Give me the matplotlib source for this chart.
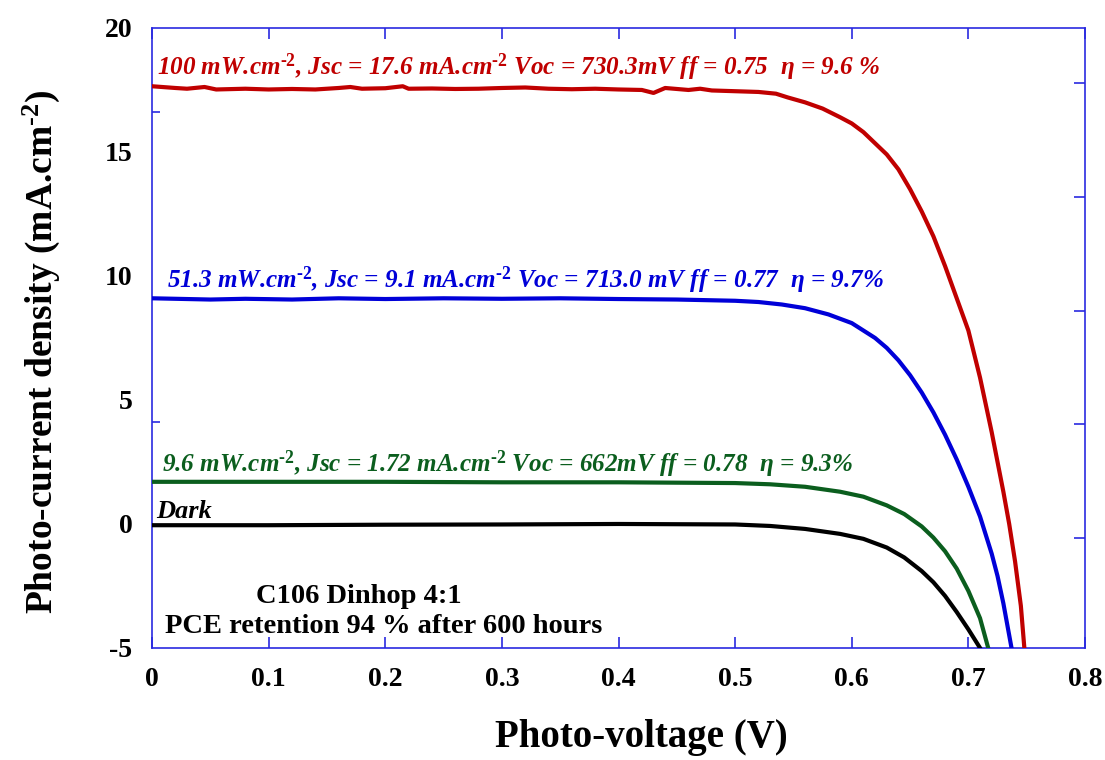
import matplotlib
matplotlib.use("Agg")
import matplotlib.pyplot as plt

# ---------------- data ----------------
v_red = [0.00, 0.02, 0.03, 0.045, 0.055, 0.08, 0.10, 0.12, 0.14, 0.16, 0.17, 0.18,
         0.20, 0.215, 0.22, 0.24, 0.26, 0.28, 0.30, 0.32, 0.34, 0.36, 0.38, 0.40,
         0.42, 0.43, 0.44, 0.46, 0.47, 0.48, 0.50, 0.52, 0.535, 0.545, 0.56, 0.575,
         0.59, 0.60, 0.61, 0.62, 0.63, 0.64, 0.65, 0.66, 0.67, 0.68, 0.69, 0.70,
         0.71, 0.72, 0.73, 0.735, 0.74, 0.745, 0.748]
j_red = [17.65, 17.58, 17.55, 17.62, 17.52, 17.55, 17.52, 17.54, 17.52, 17.58, 17.62, 17.55,
         17.57, 17.65, 17.55, 17.56, 17.54, 17.55, 17.58, 17.60, 17.55, 17.53, 17.55, 17.52,
         17.50, 17.38, 17.58, 17.50, 17.55, 17.48, 17.45, 17.42, 17.35, 17.20, 17.00, 16.75,
         16.40, 16.15, 15.80, 15.35, 14.90, 14.30, 13.50, 12.60, 11.60, 10.40, 9.10, 7.80,
         5.90, 3.70, 1.30, 0.00, -1.50, -3.30, -5.00]

v_blue = [0.00, 0.02, 0.05, 0.08, 0.12, 0.16, 0.20, 0.25, 0.30, 0.35, 0.40, 0.45,
          0.50, 0.52, 0.54, 0.56, 0.58, 0.60, 0.62, 0.63, 0.64, 0.65, 0.66, 0.67,
          0.68, 0.69, 0.70, 0.71, 0.72, 0.725, 0.73, 0.737]
j_blue = [9.10, 9.08, 9.05, 9.08, 9.05, 9.10, 9.07, 9.10, 9.08, 9.10, 9.07, 9.05,
          9.00, 8.95, 8.85, 8.70, 8.45, 8.10, 7.50, 7.10, 6.60, 6.00, 5.30, 4.50,
          3.60, 2.60, 1.50, 0.30, -1.20, -2.10, -3.20, -5.00]

v_green = [0.00, 0.10, 0.20, 0.30, 0.40, 0.50, 0.53, 0.56, 0.59, 0.61, 0.63, 0.645,
           0.66, 0.67, 0.68, 0.69, 0.70, 0.71, 0.717]
j_green = [1.70, 1.70, 1.70, 1.68, 1.68, 1.65, 1.60, 1.50, 1.30, 1.10, 0.75, 0.40,
           -0.10, -0.55, -1.10, -1.80, -2.70, -3.80, -5.00]

v_dark = [0.00, 0.10, 0.20, 0.30, 0.40, 0.50, 0.53, 0.56, 0.59, 0.61, 0.63, 0.645,
          0.66, 0.67, 0.68, 0.69, 0.70, 0.71]
j_dark = [-0.05, -0.05, -0.03, -0.02, 0.00, -0.02, -0.08, -0.20, -0.40, -0.60, -0.95, -1.35,
          -1.90, -2.35, -2.90, -3.55, -4.25, -5.00]

x_ticks = [0, 0.1, 0.2, 0.3, 0.4, 0.5, 0.6, 0.7, 0.8]
x_tick_labels = ["0", "0.1", "0.2", "0.3", "0.4", "0.5", "0.6", "0.7", "0.8"]
y_ticks = [-5, 0, 5, 10, 15, 20]
y_tick_labels = ["-5", "0", "5", "10", "15", "20"]
left_minor_ticks = [0, 4.1, 10, 16.6]
right_ticks = [17.78, 13.19, 8.59, 4.03, -0.56]

HY = "\u2010"  # short hyphen for the superscript
lbl_red = "100 mW.cm$^{\\mathit{" + HY + "2}}$, Jsc = 17.6 mA.cm$^{\\mathit{" + HY + "2}}$ Voc = 730.3mV ff = 0.75  η = 9.6 %"
lbl_blue = "51.3 mW.cm$^{\\mathit{" + HY + "2}}$, Jsc = 9.1 mA.cm$^{\\mathit{" + HY + "2}}$ Voc = 713.0 mV ff = 0.77  η = 9.7%"
lbl_green = "9.6 mW.cm$^{\\mathit{" + HY + "2}}$, Jsc = 1.72 mA.cm$^{\\mathit{" + HY + "2}}$ Voc = 662mV ff = 0.78  η = 9.3%"
ylabel_txt = "Photo-current density (mA.cm$^{\\mathbf{" + HY + "2}}$)"

# ---------------- style ----------------
plt.rcParams['font.family'] = ['Liberation Serif', 'DejaVu Serif']
plt.rcParams['mathtext.fontset'] = 'custom'
plt.rcParams['mathtext.it'] = 'Liberation Serif:italic:bold'
plt.rcParams['mathtext.bf'] = 'Liberation Serif:bold'
plt.rcParams['mathtext.rm'] = 'Liberation Serif:bold'

RED = '#c00000'
BLUE = '#0000d8'
GREEN = '#0b5e1e'
FRAME = '#2a2ae0'

fig = plt.figure(figsize=(11.05, 7.6), dpi=100)
ax = fig.add_axes([0.1376, 0.1474, 0.8443, 0.8158])

ax.plot(v_red, j_red, color=RED, lw=3, solid_joinstyle='round', zorder=3)
ax.plot(v_blue, j_blue, color=BLUE, lw=3, solid_joinstyle='round', zorder=3)
ax.plot(v_green, j_green, color=GREEN, lw=3, solid_joinstyle='round', zorder=3)
ax.plot(v_dark, j_dark, color='black', lw=3, solid_joinstyle='round', zorder=3)

ax.set_xlim(0, 0.8)
ax.set_ylim(-5, 20)

for s in ax.spines.values():
    s.set_color(FRAME)
    s.set_linewidth(1.2)

ax.set_xticks(x_ticks)
ax.set_xticklabels(x_tick_labels, fontsize=20, fontweight='bold')
ax.set_yticks(y_ticks)
ax.set_yticklabels(y_tick_labels, fontsize=20, fontweight='bold')
ax.tick_params(axis='x', which='major', direction='in', length=8, width=1.2,
               color=FRAME, top=True, bottom=True, pad=14)
ax.tick_params(axis='y', which='major', length=0, pad=14, right=False)
ax.set_yticks(left_minor_ticks, minor=True)
ax.tick_params(axis='y', which='minor', direction='in', length=6, width=1.2,
               color=FRAME, left=True, right=False)

ax2 = ax.twinx()
ax2.set_ylim(-5, 20)
ax2.set_yticks(right_ticks)
ax2.set_yticklabels([])
ax2.tick_params(axis='y', direction='in', length=8, width=1.2, color=FRAME)
for s in ax2.spines.values():
    s.set_visible(False)

ax.set_xlabel("Photo-voltage (V)", fontsize=28, fontweight='bold')
ax.xaxis.set_label_coords(0.525, -0.115)
ax.set_ylabel(ylabel_txt, fontsize=27, fontweight='bold')
ax.yaxis.set_label_coords(-0.097, 0.477)

FS = 18.1
ax.text(0.0043, 18.1, lbl_red, color=RED, fontsize=FS, fontweight='bold',
        fontstyle='italic', ha='left', va='baseline')
ax.text(0.0129, 9.52, lbl_blue, color=BLUE, fontsize=FS, fontweight='bold',
        fontstyle='italic', ha='left', va='baseline')
ax.text(0.0086, 2.1, lbl_green, color=GREEN, fontsize=FS, fontweight='bold',
        fontstyle='italic', ha='left', va='baseline')
ax.text(0.0034, 0.24, "Dark", color='black', fontsize=19, fontweight='bold',
        fontstyle='italic', ha='left', va='baseline')

ax.text(0.177, -3.19, "C106 Dinhop 4:1", color='black', fontsize=20.5,
        fontweight='bold', ha='center', va='baseline')
ax.text(0.199, -4.4, "PCE retention 94 % after 600 hours", color='black', fontsize=20.5,
        fontweight='bold', ha='center', va='baseline')

fig.savefig("out.png", dpi=100)
